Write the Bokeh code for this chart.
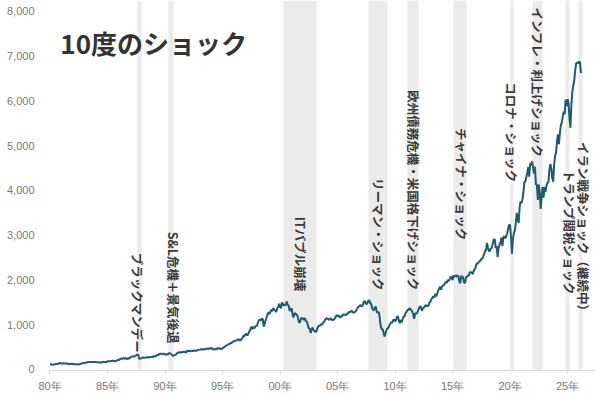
import numpy as np
from bokeh.plotting import figure
from bokeh.models import ColumnDataSource, Label, FixedTicker, BoxAnnotation, Range1d, NumeralTickFormatter
from bokeh.core.properties import value
from bokeh.embed import file_html
from bokeh.resources import INLINE

# Monthly index closes, starting January 1980
start_year = 1980
close_1980s = [
    114, 113, 102, 106, 111, 114, 122, 122, 125, 127, 141, 136,
    130, 131, 136, 133, 133, 131, 131, 123, 116, 122, 126, 123,
    120, 113, 112, 116, 112, 110, 107, 120, 120, 134, 139, 141,
    145, 148, 153, 164, 162, 168, 163, 164, 166, 164, 166, 165,
    163, 157, 159, 160, 151, 153, 151, 167, 166, 166, 164, 167,
    180, 181, 181, 180, 190, 192, 191, 188, 182, 190, 202, 211,
    212, 227, 239, 236, 247, 251, 236, 253, 231, 244, 249, 242,
    274, 284, 292, 288, 290, 304, 319, 330, 322, 252, 230, 247,
    257, 268, 259, 261, 262, 274, 272, 262, 272, 279, 274, 278,
    297, 289, 295, 310, 321, 318, 346, 351, 349, 340, 346, 353,
]
close_1990s = [
    329, 332, 340, 331, 361, 358, 356, 323, 306, 304, 322, 330,
    344, 367, 375, 375, 390, 371, 388, 395, 388, 392, 375, 417,
    409, 413, 404, 415, 415, 408, 424, 414, 418, 419, 431, 436,
    439, 443, 452, 440, 450, 451, 448, 464, 459, 468, 462, 466,
    482, 467, 446, 451, 457, 444, 458, 475, 463, 472, 454, 459,
    471, 487, 501, 515, 533, 545, 562, 562, 584, 582, 605, 616,
    636, 640, 646, 654, 669, 671, 640, 652, 687, 705, 757, 741,
    786, 791, 757, 801, 848, 885, 954, 899, 947, 915, 955, 970,
    980, 1049, 1102, 1112, 1091, 1134, 1121, 957, 1017, 1099, 1164, 1229,
    1280, 1238, 1286, 1335, 1302, 1373, 1329, 1320, 1283, 1363, 1389, 1469,
]
close_2000s = [
    1394, 1366, 1499, 1452, 1421, 1455, 1431, 1518, 1437, 1429, 1315, 1320,
    1366, 1240, 1160, 1249, 1256, 1224, 1211, 1134, 1041, 1060, 1139, 1148,
    1130, 1107, 1147, 1077, 1067, 990, 912, 916, 815, 886, 936, 880,
    856, 841, 848, 917, 964, 975, 990, 1008, 996, 1051, 1058, 1112,
    1131, 1145, 1126, 1107, 1121, 1141, 1102, 1104, 1115, 1130, 1174, 1212,
    1181, 1204, 1181, 1157, 1192, 1191, 1234, 1220, 1229, 1207, 1249, 1248,
    1280, 1281, 1295, 1311, 1270, 1270, 1277, 1304, 1336, 1378, 1401, 1418,
    1438, 1407, 1421, 1482, 1531, 1503, 1455, 1474, 1527, 1549, 1481, 1468,
    1379, 1331, 1323, 1386, 1400, 1280, 1267, 1283, 1165, 969, 896, 903,
    826, 735, 798, 873, 919, 919, 987, 1021, 1057, 1036, 1096, 1115,
]
close_2010s = [
    1074, 1104, 1169, 1187, 1089, 1031, 1102, 1049, 1141, 1183, 1181, 1258,
    1286, 1327, 1326, 1364, 1345, 1321, 1292, 1219, 1131, 1253, 1247, 1258,
    1312, 1366, 1408, 1398, 1310, 1362, 1379, 1407, 1441, 1412, 1416, 1426,
    1498, 1515, 1569, 1598, 1631, 1606, 1686, 1633, 1682, 1757, 1806, 1848,
    1783, 1859, 1872, 1884, 1924, 1960, 1931, 2003, 1972, 2018, 2068, 2059,
    1995, 2105, 2068, 2086, 2107, 2063, 2104, 1972, 1920, 2079, 2080, 2044,
    1940, 1932, 2060, 2065, 2097, 2099, 2174, 2171, 2168, 2126, 2199, 2239,
    2279, 2364, 2363, 2384, 2412, 2423, 2470, 2472, 2519, 2575, 2648, 2674,
    2824, 2714, 2641, 2648, 2705, 2718, 2816, 2902, 2914, 2712, 2760, 2507,
    2704, 2784, 2834, 2946, 2752, 2942, 2980, 2926, 2977, 3038, 3141, 3231,
]
close_2020s = [
    3226, 2954, 2585, 2912, 3044, 3100, 3271, 3500, 3363, 3270, 3622, 3756,
    3714, 3811, 3973, 4181, 4204, 4298, 4395, 4523, 4308, 4605, 4567, 4650,
    4516, 4374, 4530, 4132, 4132, 3785, 4130, 3955, 3586, 3872, 4080, 3840,
    4077, 3970, 4109, 4169, 4180, 4450, 4589, 4508, 4288, 4194, 4568, 4770,
    4846, 5096, 5254, 5036, 5278, 5460, 5522, 5648, 5762, 5705, 6032, 5882,
    6040, 5955, 5612, 5400, 5912, 6205, 6339, 6460, 6688, 6840, 6849, 6845,
    6880, 6860, 6620,
]

# Shock periods (decimal years) and their labels
shock_start = [1987.61, 1990.30, 2000.30, 2007.70, 2011.09, 2015.09, 2020.04, 2021.96, 2024.83, 2025.96]
shock_end = [1987.96, 1990.74, 2003.17, 2009.35, 2012.04, 2016.22, 2020.30, 2022.83, 2025.17, 2026.30]
shock_names = [
    "ブラックマンデー",
    "S&L危機＋景気後退",
    "ITバブル崩壊",
    "リーマン・ショック",
    "欧州債務危機・米国格下げショック",
    "チャイナ・ショック",
    "コロナ・ショック",
    "インフレ・利上げショック",
    "トランプ関税ショック",
    "イラン戦争ショック（継続中）",
]
label_x = [1987.65, 1990.70, 2001.78, 2008.57, 2011.61, 2015.74, 2020.13, 2022.39, 2025.13, 2026.39]
label_top = [2607, 3075, 3409, 4279, 6240, 5393, 6418, 8089, 4457, 5081]

x_ticks = [1980, 1985, 1990, 1995, 2000, 2005, 2010, 2015, 2020, 2025]
x_tick_labels = ["80年", "85年", "90年", "95年", "00年", "05年", "10年", "15年", "20年", "25年"]
y_ticks = [0, 1000, 2000, 3000, 4000, 5000, 6000, 7000, 8000]

closes = close_1980s + close_1990s + close_2000s + close_2010s + close_2020s
dates = [start_year + i / 12 for i in range(len(closes))]

FONT = "Noto Sans CJK JP"

p = figure(width=600, height=394, output_backend="svg", toolbar_location=None,
           x_range=Range1d(1979.87, 2027.43), y_range=Range1d(-25, 8245),
           min_border_left=48, min_border_right=5, min_border_top=0, min_border_bottom=23)
p.background_fill_color = "white"
p.border_fill_color = "white"
p.outline_line_color = None
p.grid.visible = False

for s, e in zip(shock_start, shock_end):
    p.add_layout(BoxAnnotation(left=s, right=e, fill_color="#ebebeb", fill_alpha=1.0,
                               line_alpha=0, level="underlay"))

p.line(dates, closes, line_color="#1f5b6f", line_width=2)

labels = ColumnDataSource(dict(x=label_x, y=label_top, text=shock_names))
p.text(x="x", y="y", text="text", source=labels, angle=-np.pi / 2,
       text_align="left", text_baseline="middle",
       text_font=value(FONT), text_font_size="12.5px", text_font_style="bold",
       text_color="#3a3a3a")

p.add_layout(Label(x=1980.9, y=7305, text="10度のショック", text_font=FONT,
                   text_font_size="26px", text_font_style="bold",
                   text_color="#333333", text_baseline="middle"))

# x axis: year ticks with short labels
p.xaxis.ticker = FixedTicker(ticks=x_ticks)
p.xaxis.major_label_overrides = {t: l for t, l in zip(x_ticks, x_tick_labels)}
p.xaxis.axis_line_color = "#d9d9d9"
p.xaxis.major_tick_line_color = "#d9d9d9"
p.xaxis.major_tick_out = 4
p.xaxis.major_tick_in = 0
p.xaxis.minor_tick_line_color = None
p.xaxis.major_label_standoff = 5
p.xaxis.major_label_text_font = "Liberation Sans"
p.xaxis.major_label_text_font_size = "11px"
p.xaxis.major_label_text_color = "#777777"

# y axis: labels only
p.yaxis.ticker = FixedTicker(ticks=y_ticks)
p.yaxis.formatter = NumeralTickFormatter(format="0,0")
p.yaxis.axis_line_color = None
p.yaxis.major_tick_line_color = None
p.yaxis.minor_tick_line_color = None
p.yaxis.major_tick_out = 0
p.yaxis.major_tick_in = 0
p.yaxis.major_label_standoff = 14
p.yaxis.major_label_text_font = "Liberation Sans"
p.yaxis.major_label_text_font_size = "11px"
p.yaxis.major_label_text_color = "#777777"

open("out.html", "w").write(file_html(p, INLINE))
